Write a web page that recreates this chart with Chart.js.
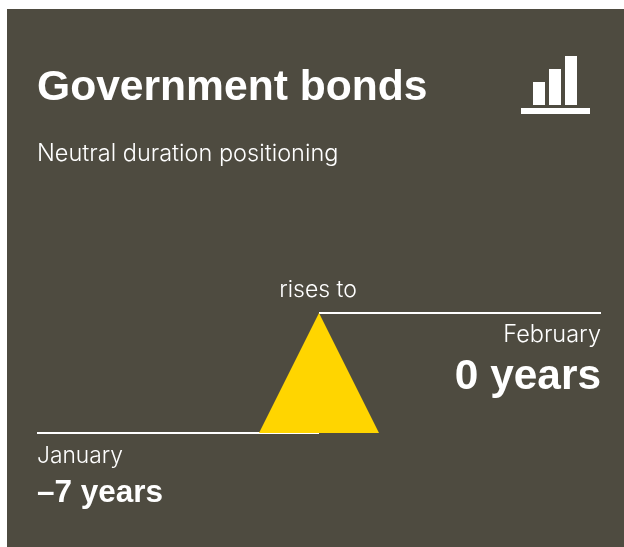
<!DOCTYPE html>
<html>
<head>
<meta charset="utf-8">
<title>Government bonds</title>
<script src="https://cdn.jsdelivr.net/npm/chart.js@4"></script>
<style>
  html, body { margin: 0; padding: 0; background: #fff; overflow: hidden; }
  #card { position: absolute; left: 7px; top: 9px; width: 617px; height: 538px; background: #4e4b40; }
  #stage { position: absolute; left: 0; top: 0; width: 624px; height: 547px; }
  #icon { position: absolute; left: 521px; top: 55px; }
</style>
</head>
<body>
<div id="card"></div>
<div id="stage"><canvas id="chart" width="624" height="547"></canvas></div>
<svg id="icon" width="69" height="60" viewBox="0 0 69 60" aria-hidden="true">
  <rect x="12" y="27" width="12" height="23" fill="#fff"/>
  <rect x="28" y="14" width="12" height="36" fill="#fff"/>
  <rect x="44" y="1" width="12" height="49" fill="#fff"/>
  <rect x="0" y="53" width="69" height="6" fill="#fff"/>
</svg>
<script>
// Duration positioning, in years, for each month
const months = ['January', 'February'];
const durations = [-7, 0];
const valueLabels = ['–7 years', '0 years'];
const headline = 'Government bonds';
const subhead = 'Neutral duration positioning';
const changeLabel = 'rises to';

const WHITE = '#ffffff';
const YELLOW = '#ffd500';
const THIN_FONT = '"Inter", sans-serif';
const BOLD_FONT = '"Liberation Sans", sans-serif';
const triangleHalfWidth = 0.2128;   // half the arrow's base, in x units

// Each month's level runs along its own half of the x axis; they meet at x = 1
const januaryLine = [{ x: 0, y: durations[0] }, { x: 1, y: durations[0] }];
const februaryLine = [{ x: 1, y: durations[1] }, { x: 2, y: durations[1] }];
const riseArrow = [
  { x: 1 - triangleHalfWidth, y: durations[0] },
  { x: 1, y: durations[1] },
  { x: 1 + triangleHalfWidth, y: durations[0] }
];

// Text placed relative to the scales so it follows the two levels
const annotations = {
  id: 'annotations',
  afterDraw(chart) {
    const { ctx, scales: { x, y } } = chart;
    const write = (text, px, py, font, align) => {
      ctx.font = font;
      ctx.textAlign = align;
      ctx.textBaseline = 'alphabetic';
      ctx.fillStyle = WHITE;
      ctx.fillText(text, px, py);
    };
    const thin = '300 23px ' + THIN_FONT;
    const top = y.getPixelForValue(durations[1]);
    const low = y.getPixelForValue(durations[0]);
    ctx.save();
    write(headline, x.getPixelForValue(0), 100, '700 42.6px ' + BOLD_FONT, 'left');
    write(subhead, x.getPixelForValue(0), 161, '300 23.5px ' + THIN_FONT, 'left');
    write(changeLabel, x.getPixelForValue(1) - 1, top - 16, thin, 'center');
    write(months[1], x.getPixelForValue(2), top + 29, '300 23.5px ' + THIN_FONT, 'right');
    write(valueLabels[1], x.getPixelForValue(2), top + 76, '700 42.4px ' + BOLD_FONT, 'right');
    write(months[0], x.getPixelForValue(0), low + 30, '300 22.8px ' + THIN_FONT, 'left');
    write(valueLabels[0], x.getPixelForValue(0), low + 69, '700 31.5px ' + BOLD_FONT, 'left');
    ctx.restore();
  }
};

new Chart(document.getElementById('chart'), {
  type: 'scatter',
  data: {
    datasets: [
      { label: 'Rise', data: riseArrow, showLine: true, borderWidth: 0, pointRadius: 0,
        backgroundColor: YELLOW, fill: { value: durations[0] }, tension: 0 },
      { label: months[0], data: januaryLine, showLine: true, borderColor: WHITE, borderWidth: 2, pointRadius: 0 },
      { label: months[1], data: februaryLine, showLine: true, borderColor: WHITE, borderWidth: 2, pointRadius: 0 }
    ]
  },
  options: {
    responsive: false,
    animation: false,
    layout: { padding: { left: 37, right: 23, top: 0, bottom: 0 } },
    plugins: { legend: { display: false }, tooltip: { enabled: false } },
    scales: {
      x: { type: 'linear', min: 0, max: 2, display: false },
      y: { type: 'linear', min: -13.65, max: 18.26, display: false }
    }
  },
  plugins: [annotations]
});
</script>
</body>
</html>
